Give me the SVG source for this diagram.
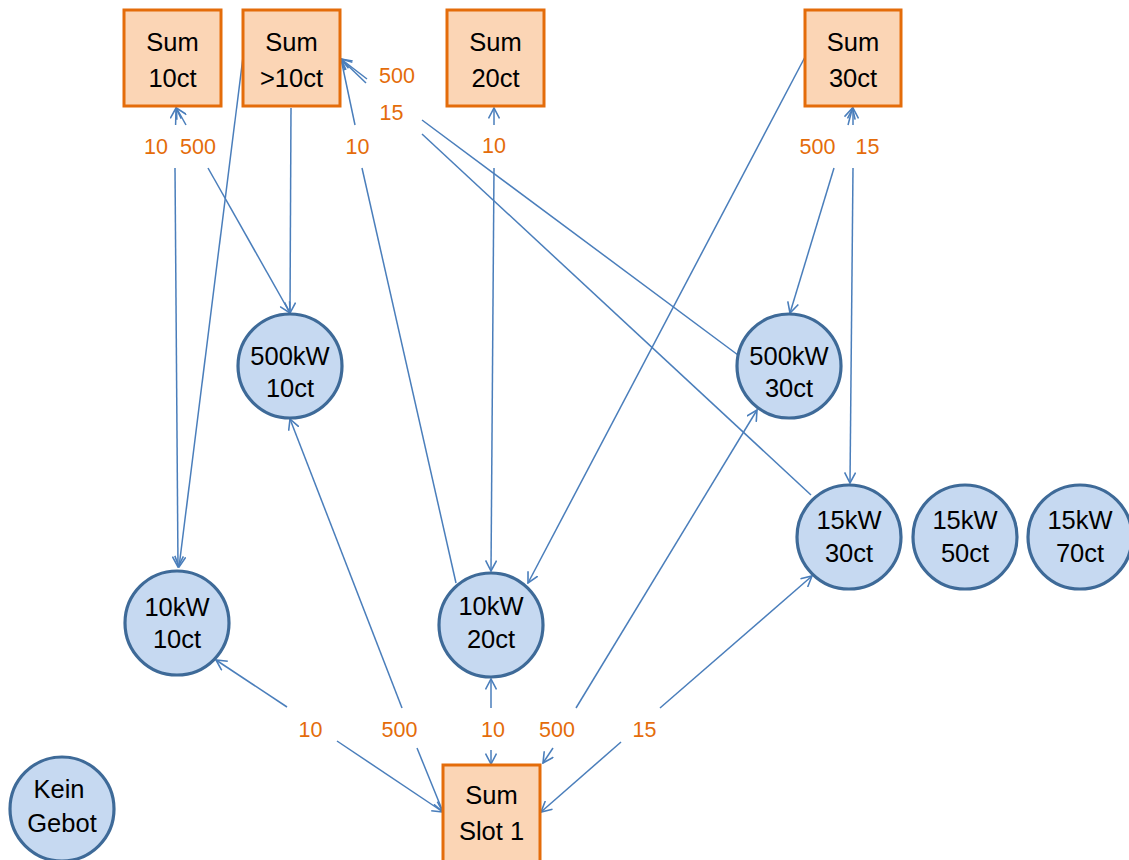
<svg xmlns="http://www.w3.org/2000/svg" width="1129" height="860" viewBox="0 0 1129 860">
<defs>
<marker id="arr" markerUnits="userSpaceOnUse" viewBox="0 0 12 12" markerWidth="12" markerHeight="12" refX="11" refY="6" orient="auto">
<path d="M0.5,0.5 L11,6 L0.5,11.5" fill="none" stroke="#4A7EBB" stroke-width="1.6"/>
</marker>
</defs>
<style>
.box{fill:#FBD5B5;stroke:#E46C0A;stroke-width:3}
.bid{fill:#C6D9F1;stroke:#3E6A98;stroke-width:3.2}
.t{font-family:"Liberation Sans",Arial,sans-serif;font-size:25.5px;fill:#000;text-anchor:middle}
.lbl{font-family:"Liberation Sans",Arial,sans-serif;font-size:21.5px;fill:#E46C0A;text-anchor:middle}
.e{stroke:#4A7EBB;stroke-width:1.5;fill:none}
.a{marker-end:url(#arr)}
</style>
<rect width="1129" height="860" fill="#fff"/>
<g id="connectors">
<line class="e a" x1="175.6" y1="125" x2="176" y2="108"/>
<line class="e a" x1="175" y1="168" x2="178" y2="567"/>
<line class="e a" x1="186" y1="125" x2="176.5" y2="108"/>
<line class="e a" x1="208" y1="168" x2="290" y2="313"/>
<line class="e a" x1="291" y1="108" x2="290" y2="313"/>
<line class="e a" x1="243" y1="57" x2="179" y2="567"/>
<line class="e" x1="456" y1="583" x2="362" y2="168"/>
<line class="e a" x1="355" y1="125" x2="341" y2="59"/>
<line class="e" x1="738" y1="355" x2="422" y2="120"/>
<line class="e a" x1="367" y1="79" x2="341" y2="59"/>
<line class="e" x1="811" y1="495" x2="422" y2="134"/>
<line class="e a" x1="366" y1="83" x2="341" y2="59"/>
<line class="e a" x1="494" y1="125" x2="494" y2="108"/>
<line class="e a" x1="494" y1="168" x2="491" y2="571"/>
<line class="e a" x1="805" y1="57" x2="528" y2="583"/>
<line class="e a" x1="848" y1="125" x2="852.5" y2="108"/>
<line class="e a" x1="834" y1="168" x2="790" y2="313"/>
<line class="e a" x1="853" y1="125" x2="853" y2="108"/>
<line class="e a" x1="853" y1="168" x2="850" y2="483"/>
<line class="e a" x1="287" y1="707" x2="216" y2="660"/>
<line class="e a" x1="337" y1="741" x2="443" y2="812"/>
<line class="e a" x1="402" y1="708" x2="290" y2="419"/>
<line class="e a" x1="417" y1="748" x2="443" y2="812"/>
<line class="e a" x1="491" y1="708" x2="491" y2="679"/>
<line class="e a" x1="491" y1="750" x2="491" y2="764"/>
<line class="e a" x1="576" y1="708" x2="757" y2="410"/>
<line class="e a" x1="553" y1="748" x2="543" y2="763"/>
<line class="e a" x1="660" y1="708" x2="812" y2="576"/>
<line class="e a" x1="621" y1="742" x2="541" y2="812"/>
</g>
<g id="labels">
<text class="lbl" x="156" y="154">10</text>
<text class="lbl" x="198" y="154">500</text>
<text class="lbl" x="397" y="83">500</text>
<text class="lbl" x="391.5" y="120">15</text>
<text class="lbl" x="357.5" y="154">10</text>
<text class="lbl" x="494" y="153">10</text>
<text class="lbl" x="817.5" y="154">500</text>
<text class="lbl" x="867.5" y="154">15</text>
<text class="lbl" x="310.5" y="737">10</text>
<text class="lbl" x="399.5" y="737">500</text>
<text class="lbl" x="493" y="737">10</text>
<text class="lbl" x="557" y="737">500</text>
<text class="lbl" x="644.5" y="737">15</text>
</g>
<g id="sum10ct"><rect class="box" x="124" y="10" width="97" height="96"/><text class="t" x="172.5" y="51">Sum</text><text class="t" x="172.5" y="87">10ct</text></g>
<g id="sumGt10ct"><rect class="box" x="243" y="10" width="97" height="96"/><text class="t" x="291.5" y="51">Sum</text><text class="t" x="291.5" y="87">&gt;10ct</text></g>
<g id="sum20ct"><rect class="box" x="447" y="10" width="97" height="96"/><text class="t" x="495.5" y="51">Sum</text><text class="t" x="495.5" y="87">20ct</text></g>
<g id="sum30ct"><rect class="box" x="805" y="10" width="96" height="96"/><text class="t" x="853" y="51">Sum</text><text class="t" x="853" y="87">30ct</text></g>
<g id="sumSlot1"><rect class="box" x="443" y="765" width="97" height="97"/><text class="t" x="491.5" y="804">Sum</text><text class="t" x="491.5" y="840">Slot 1</text></g>
<g id="b500kW10ct"><circle class="bid" cx="290" cy="366" r="52"/><text class="t" x="290" y="365">500kW</text><text class="t" x="290" y="397">10ct</text></g>
<g id="b500kW30ct"><circle class="bid" cx="789" cy="366" r="52"/><text class="t" x="789" y="365">500kW</text><text class="t" x="789" y="397">30ct</text></g>
<g id="b10kW10ct"><circle class="bid" cx="177" cy="623" r="52"/><text class="t" x="177" y="616">10kW</text><text class="t" x="177" y="648">10ct</text></g>
<g id="b10kW20ct"><circle class="bid" cx="491" cy="625" r="52"/><text class="t" x="491" y="615">10kW</text><text class="t" x="491" y="648">20ct</text></g>
<g id="b15kW30ct"><circle class="bid" cx="849" cy="537" r="52"/><text class="t" x="849" y="529">15kW</text><text class="t" x="849" y="562">30ct</text></g>
<g id="b15kW50ct"><circle class="bid" cx="965" cy="537" r="52"/><text class="t" x="965" y="529">15kW</text><text class="t" x="965" y="562">50ct</text></g>
<g id="b15kW70ct"><circle class="bid" cx="1080" cy="537" r="52"/><text class="t" x="1080" y="529">15kW</text><text class="t" x="1080" y="562">70ct</text></g>
<g id="keinGebot"><circle class="bid" cx="62" cy="809" r="52"/><text class="t" x="59" y="798">Kein</text><text class="t" x="62" y="832">Gebot</text></g>
</svg>
